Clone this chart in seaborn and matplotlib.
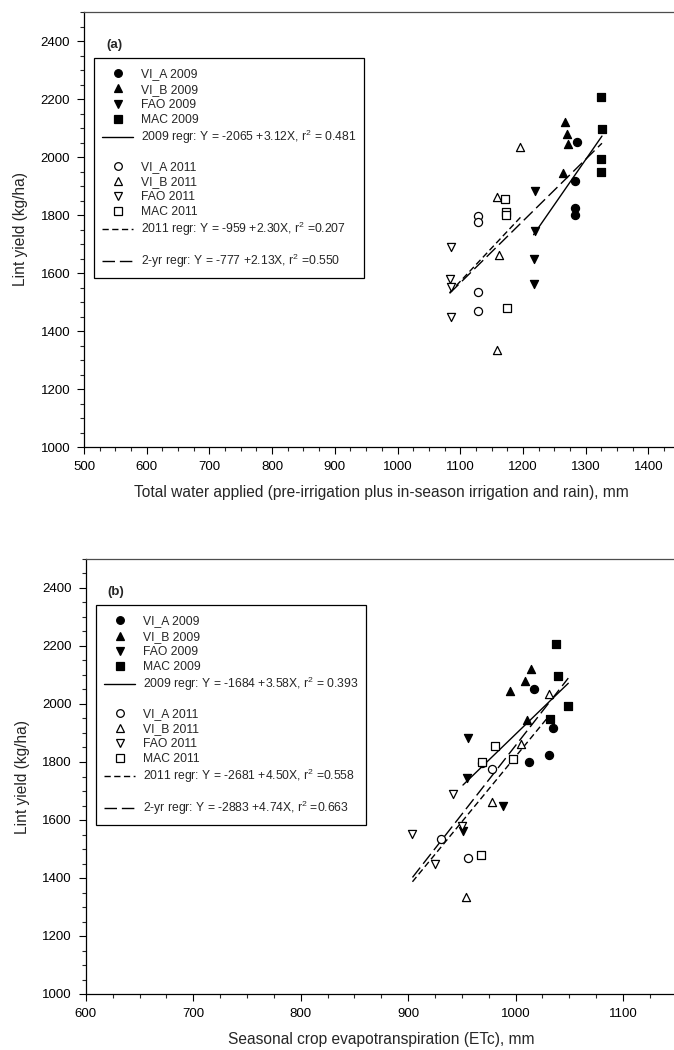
import numpy as np
import pandas as pd
import matplotlib
matplotlib.use("Agg")
import matplotlib.pyplot as plt
import matplotlib.transforms as mtransforms
import seaborn as sns
from matplotlib.lines import Line2D
from matplotlib.patches import Rectangle
from matplotlib.ticker import MultipleLocator

# ---------------- data ----------------
treatments = ["VI_A", "VI_B", "FAO", "MAC"]
years = [2009, 2011]

# lint yield (kg/ha), four plots per treatment
yield_vi_a_2009 = [2053, 1917, 1823, 1801]
yield_vi_b_2009 = [2122, 2078, 2045, 1946]
yield_fao_2009 = [1883, 1745, 1647, 1561]
yield_mac_2009 = [2208, 2096, 1994, 1948]
yield_vi_a_2011 = [1797, 1775, 1536, 1469]
yield_vi_b_2011 = [2035, 1863, 1661, 1334]
yield_fao_2011 = [1691, 1578, 1551, 1449]
yield_mac_2011 = [1855, 1810, 1800, 1480]

# total water applied (mm)
water_vi_a_2009 = [1286, 1283, 1283, 1283]
water_vi_b_2009 = [1267, 1270, 1272, 1264]
water_fao_2009 = [1219, 1220, 1218, 1217]
water_mac_2009 = [1325, 1326, 1324, 1325]
water_vi_a_2011 = [1129, 1129, 1129, 1129]
water_vi_b_2011 = [1196, 1159, 1162, 1159]
water_fao_2011 = [1086, 1083, 1085, 1085]
water_mac_2011 = [1171, 1173, 1173, 1174]

# seasonal ETc (mm)
etc_vi_a_2009 = [1017, 1035, 1031, 1012]
etc_vi_b_2009 = [1014, 1009, 995, 1011]
etc_fao_2009 = [956, 955, 988, 951]
etc_mac_2009 = [1038, 1039, 1049, 1032]
etc_vi_a_2011 = [969, 978, 931, 956]
etc_vi_b_2011 = [1031, 1005, 978, 954]
etc_fao_2011 = [942, 950, 904, 925]
etc_mac_2011 = [981, 998, 969, 968]

# regressions: 2009, 2011, 2-yr
regr_names = ["2009", "2011", "2-yr"]
regr_intercept_a = [-2065, -959, -777]
regr_slope_a = [3.12, 2.30, 2.13]
regr_label_a = ["2009 regr: Y = -2065 +3.12X, r$^2$ = 0.481",
                "2011 regr: Y = -959 +2.30X, r$^2$ =0.207",
                "2-yr regr: Y = -777 +2.13X, r$^2$ =0.550"]
regr_intercept_b = [-1684, -2681, -2883]
regr_slope_b = [3.58, 4.50, 4.74]
regr_label_b = ["2009 regr: Y = -1684 +3.58X, r$^2$ = 0.393",
                "2011 regr: Y = -2681 +4.50X, r$^2$ =0.558",
                "2-yr regr: Y = -2883 +4.74X, r$^2$ =0.663"]

# ---------------- table ----------------
yields = {("VI_A", 2009): yield_vi_a_2009, ("VI_B", 2009): yield_vi_b_2009,
          ("FAO", 2009): yield_fao_2009, ("MAC", 2009): yield_mac_2009,
          ("VI_A", 2011): yield_vi_a_2011, ("VI_B", 2011): yield_vi_b_2011,
          ("FAO", 2011): yield_fao_2011, ("MAC", 2011): yield_mac_2011}
waters = {("VI_A", 2009): water_vi_a_2009, ("VI_B", 2009): water_vi_b_2009,
          ("FAO", 2009): water_fao_2009, ("MAC", 2009): water_mac_2009,
          ("VI_A", 2011): water_vi_a_2011, ("VI_B", 2011): water_vi_b_2011,
          ("FAO", 2011): water_fao_2011, ("MAC", 2011): water_mac_2011}
etcs = {("VI_A", 2009): etc_vi_a_2009, ("VI_B", 2009): etc_vi_b_2009,
        ("FAO", 2009): etc_fao_2009, ("MAC", 2009): etc_mac_2009,
        ("VI_A", 2011): etc_vi_a_2011, ("VI_B", 2011): etc_vi_b_2011,
        ("FAO", 2011): etc_fao_2011, ("MAC", 2011): etc_mac_2011}
rows = []
for (t, yr), ys in yields.items():
    for i, yv in enumerate(ys):
        rows.append(dict(treatment=t, year=yr, water=waters[(t, yr)][i],
                         etc=etcs[(t, yr)][i], lint=yv))
df = pd.DataFrame(rows)

# ---------------- style ----------------
sns.set_style("ticks")
plt.rcParams['font.family'] = ['Liberation Sans', 'DejaVu Sans']
plt.rcParams['mathtext.fontset'] = 'custom'
plt.rcParams['mathtext.rm'] = 'Liberation Sans'
plt.rcParams['mathtext.it'] = 'Liberation Sans:italic'
plt.rcParams['mathtext.bf'] = 'Liberation Sans:bold'

markers = {"VI_A": "o", "VI_B": "^", "FAO": "v", "MAC": "s"}
line_styles = ["-", (0, (4.5, 2.5)), (0, (9, 3.5))]

FW, FH = 674, 1050
fig = plt.figure(figsize=(FW / 100, FH / 100), dpi=100)
ax_a = fig.add_axes([84 / FW, 1 - 447 / FH, 595.7 / FW, 435 / FH])
ax_b = fig.add_axes([85.8 / FW, 1 - 994 / FH, 591 / FW, 435 / FH])


def key_legend(ax, labels):
    """Legend box drawn in pixel offsets from the axes' top-left corner."""
    pos = ax.get_position()
    w_px, h_px = pos.width * FW, pos.height * FH
    tr = mtransforms.Affine2D().scale(1 / w_px, -1 / h_px).translate(0, 1) + ax.transAxes
    box_x, box_y, box_w, box_h = 10, 46, 270, 220
    ax.add_patch(Rectangle((box_x, box_y), box_w, box_h, transform=tr,
                           facecolor="white", edgecolor="black", lw=0.9,
                           zorder=5, clip_on=False))
    row_off = [15, 30.5, 45.7, 61, 79, 108, 123, 138, 153, 171, 203]
    entries = []
    for t in treatments:
        entries.append(("m", dict(marker=markers[t], mfc="black"), f"{t} 2009"))
    entries.append(("l", dict(ls=line_styles[0]), labels[0]))
    for t in treatments:
        entries.append(("m", dict(marker=markers[t], mfc="white"), f"{t} 2011"))
    entries.append(("l", dict(ls=line_styles[1]), labels[1]))
    entries.append(("l", dict(ls=line_styles[2]), labels[2]))
    for (kind, kw, lab), off in zip(entries, row_off):
        yc = box_y + off
        if kind == "m":
            ax.add_line(Line2D([34], [yc], transform=tr, ls="none", ms=5.5,
                               mec="black", mew=0.9, zorder=6, clip_on=False, **kw))
            base = yc + 4.3
        else:
            ax.add_line(Line2D([18, 49], [yc, yc], transform=tr, color="black",
                               lw=1.0, zorder=6, clip_on=False, **kw))
            base = yc + 4.3
        ax.text(57, base, lab, transform=tr, fontsize=8.7, ha="left",
                va="baseline", zorder=6)


def draw(ax, xcol, intercepts, slopes, labels, xlim, xlabel, tag):
    for yr in years:
        for t in treatments:
            sub = df[(df.treatment == t) & (df.year == yr)]
            sns.scatterplot(data=sub, x=xcol, y="lint", ax=ax, marker=markers[t],
                            s=34, color="black" if yr == 2009 else "white",
                            edgecolor="black", linewidth=0.9, zorder=3,
                            legend=False)
    subsets = [df[df.year == 2009], df[df.year == 2011], df]
    for sub, a, b, ls in zip(subsets, intercepts, slopes, line_styles):
        xs = np.array([sub[xcol].min(), sub[xcol].max()])
        line_df = pd.DataFrame({"x": xs, "y": a + b * xs})
        sns.lineplot(data=line_df, x="x", y="y", ax=ax, color="black",
                     linewidth=1.0, linestyle=ls, zorder=2)
    ax.set_xlim(*xlim)
    ax.set_ylim(1000, 2500)
    ax.xaxis.set_major_locator(MultipleLocator(100))
    ax.xaxis.set_minor_locator(MultipleLocator(25))
    ax.yaxis.set_major_locator(MultipleLocator(200))
    ax.yaxis.set_minor_locator(MultipleLocator(50))
    ax.tick_params(which="major", direction="out", length=5, width=0.8,
                   labelsize=9.5, colors="black", pad=5)
    ax.tick_params(which="minor", direction="out", length=3, width=0.8)
    for side in ["left", "bottom", "top"]:
        ax.spines[side].set_color("black")
        ax.spines[side].set_linewidth(0.9)
    ax.spines["top"].set_color("0.3")
    ax.spines["right"].set_visible(False)
    ax.set_xlabel(xlabel, fontsize=11.2, labelpad=9)
    ax.set_ylabel("Lint yield (kg/ha)", fontsize=11.2, labelpad=9)
    ax.text(0.037, 0.924, tag, transform=ax.transAxes, fontsize=9.5,
            fontweight="bold", ha="left", va="center")
    key_legend(ax, labels)


draw(ax_a, "water", regr_intercept_a, regr_slope_a, regr_label_a, (500, 1450),
     "Total water applied (pre-irrigation plus in-season irrigation and rain), mm", "(a)")
draw(ax_b, "etc", regr_intercept_b, regr_slope_b, regr_label_b, (600, 1150),
     "Seasonal crop evapotranspiration (ETc), mm", "(b)")

fig.savefig("out.png", dpi=100, facecolor="white")
